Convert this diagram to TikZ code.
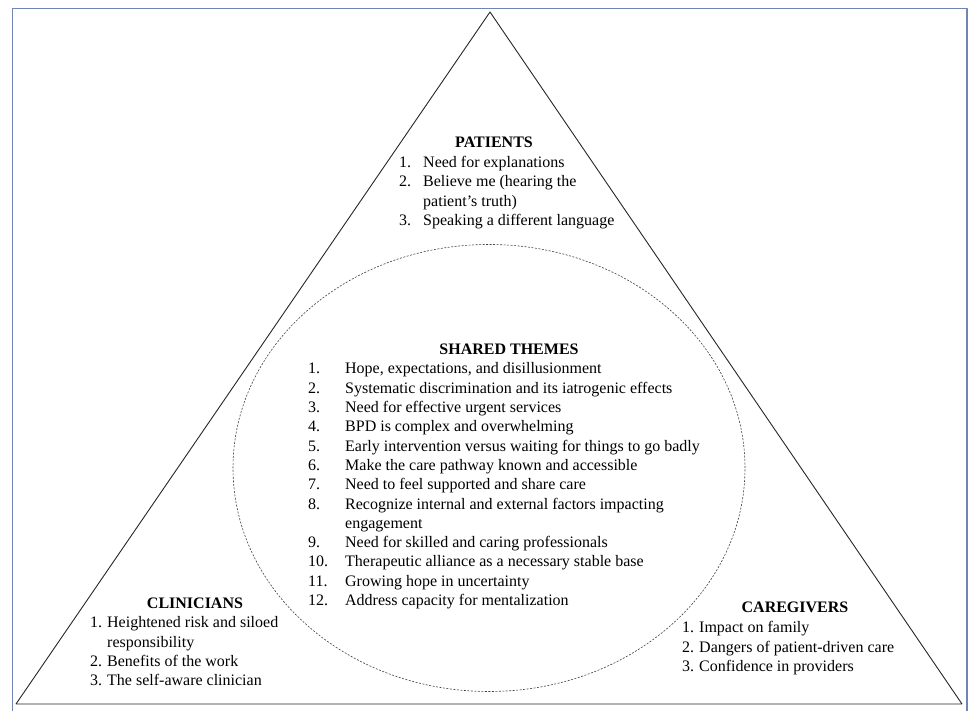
\documentclass[tikz,border=0pt]{standalone}
\usepackage[x11names, svgnames, rgb]{xcolor}
\usepackage{tikz}
\usetikzlibrary{arrows,shapes}
\usepackage{fontspec}
\setmainfont{Liberation Serif}
\definecolor{framecol}{RGB}{112,132,182}

\begin{document}
\begin{tikzpicture}[line join=bevel,
	title/.style={anchor=base,inner sep=0pt,font=\fontsize{16bp}{19.3bp}\selectfont\bfseries},
	items/.style={anchor=base west,inner sep=0pt,font=\fontsize{16bp}{19.3bp}\selectfont}]
		\useasboundingbox (0bp,0bp) rectangle (968bp,711bp);
		\draw [framecol,line width=1.2bp] (12.5bp,-3bp) -- (12.5bp,702.5bp) -- (967bp,702.5bp) -- (967bp,-3bp);
		\coordinate (apex) at (490bp,699bp);
		\coordinate (left) at (16bp,7bp);
		\coordinate (right) at (962bp,7bp);
		\draw [black!85,line width=0.9bp] (apex) -- (left) -- (right) -- cycle;
		\node (shared) at (489bp,243bp) [draw,ellipse,dashed,black!75,line width=0.6bp,dash pattern=on 2bp off 1.5bp,minimum width=512bp,minimum height=447bp] {};
		  \node (pat) at (494bp,563.5bp) [title] {PATIENTS};
		  \node (patlist) at (399bp,543.5bp) [items] {\begin{tabular}[t]{@{}p{24bp}@{}l@{}}
			1. & Need for explanations\\
			2. & Believe me (hearing the\\
			 & patient's truth)\\
			3. & Speaking a different language
			\end{tabular}};
		  \node (sh) at (509bp,356.5bp) [title] {SHARED THEMES};
		  \node (shlist) at (308bp,337bp) [items] {\begin{tabular}[t]{@{}p{37bp}@{}l@{}}
			1. & Hope, expectations, and disillusionment\\
			2. & Systematic discrimination and its iatrogenic effects\\
			3. & Need for effective urgent services\\
			4. & BPD is complex and overwhelming\\
			5. & Early intervention versus waiting for things to go badly\\
			6. & Make the care pathway known and accessible\\
			7. & Need to feel supported and share care\\
			8. & Recognize internal and external factors impacting\\
			 & engagement\\
			9. & Need for skilled and caring professionals\\
			10. & Therapeutic alliance as a necessary stable base\\
			11. & Growing hope in uncertainty\\
			12. & Address capacity for mentalization
			\end{tabular}};
		  \node (clin) at (195bp,102.5bp) [title] {CLINICIANS};
		  \node (clinlist) at (90bp,83bp) [items] {\begin{tabular}[t]{@{}p{17bp}@{}l@{}}
			1. & Heightened risk and siloed\\
			 & responsibility\\
			2. & Benefits of the work\\
			3. & The self-aware clinician
			\end{tabular}};
		  \node (care) at (795bp,98.5bp) [title] {CAREGIVERS};
		  \node (carelist) at (682bp,78bp) [items] {\begin{tabular}[t]{@{}p{17bp}@{}l@{}}
			1. & Impact on family\\
			2. & Dangers of patient-driven care\\
			3. & Confidence in providers
			\end{tabular}};
\end{tikzpicture}
\end{document}
